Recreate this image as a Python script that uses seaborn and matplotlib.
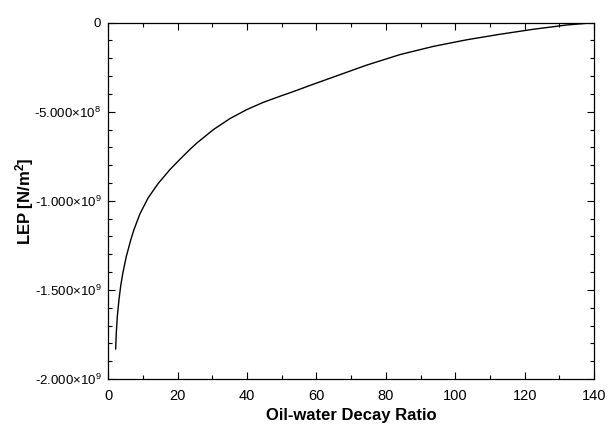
import matplotlib
matplotlib.use("Agg")
import matplotlib.pyplot as plt
from matplotlib.ticker import MultipleLocator, FuncFormatter
import seaborn as sns
import pandas as pd

ratio = [2.13, 2.3, 2.6, 3.1, 3.6, 4.2, 5.2, 6.5, 7.4, 9.1, 11.5, 14.4, 17.8,
         20.7, 23.6, 25.5, 30.3, 35.1, 39.9, 44.7, 49.5, 54.3, 58.0, 64.9,
         74.5, 84.1, 93.7, 103.3, 112.9, 122.5, 132.1, 140.0]
lep_e8 = [-18.32, -17.45, -16.50, -15.52, -14.75, -14.05, -13.12, -12.18,
          -11.62, -10.74, -9.83, -9.02, -8.24, -7.66, -7.10, -6.76, -6.00,
          -5.38, -4.88, -4.47, -4.13, -3.80, -3.53, -3.05, -2.38, -1.79,
          -1.33, -0.96, -0.65, -0.37, -0.13, 0.0]

df = pd.DataFrame({"ratio": ratio, "lep": [v * 1e8 for v in lep_e8]})

sns.set_theme(style="ticks")
plt.rcParams["font.family"] = ["Liberation Sans", "DejaVu Sans"]
plt.rcParams["mathtext.fontset"] = "custom"
plt.rcParams["mathtext.rm"] = "Liberation Sans"
plt.rcParams["mathtext.it"] = "Liberation Sans"
plt.rcParams["mathtext.bf"] = "Liberation Sans:bold"
plt.rcParams["text.color"] = "black"
plt.rcParams["axes.labelcolor"] = "black"
plt.rcParams["xtick.color"] = "black"
plt.rcParams["ytick.color"] = "black"

fig = plt.figure(figsize=(6.1, 4.28), dpi=100)
ax = fig.add_axes([0.1775, 0.1145, 0.7963, 0.8325])

sns.lineplot(data=df, x="ratio", y="lep", ax=ax, color="black", linewidth=1.0)

ax.set_xlim(0, 140)
ax.set_ylim(-2e9, 0)
ax.xaxis.set_major_locator(MultipleLocator(20))
ax.xaxis.set_minor_locator(MultipleLocator(10))
ax.yaxis.set_major_locator(MultipleLocator(5e8))
ax.yaxis.set_minor_locator(MultipleLocator(1e8))


def yfmt(v, pos):
    if abs(v) < 1:
        return "0"
    exp = 0
    m = abs(v)
    while m >= 10:
        m /= 10
        exp += 1
    sign = "-" if v < 0 else ""
    return "%s%.3f$\\mathregular{\\times}$10$^{%d}$" % (sign, m, exp)


ax.yaxis.set_major_formatter(FuncFormatter(yfmt))
ax.xaxis.set_major_formatter(FuncFormatter(lambda v, p: "%d" % v))

ax.tick_params(axis="both", which="both", direction="in", top=True, right=True,
               colors="black", width=0.8)
ax.tick_params(axis="both", which="major", length=5, labelsize=10.5)
ax.tick_params(axis="both", which="minor", length=3)
ax.tick_params(axis="x", which="major", pad=7)
ax.tick_params(axis="y", which="major", labelsize=9.5, pad=5)
for s in ax.spines.values():
    s.set_color("black")
    s.set_linewidth(0.9)

ax.set_xlabel("Oil-water Decay Ratio", fontsize=12, fontweight="bold", labelpad=4)
ax.set_ylabel("LEP [N/m$^\\mathbf{2}$]", fontsize=12, fontweight="bold", labelpad=-1)

fig.savefig("out.png", dpi=100)
